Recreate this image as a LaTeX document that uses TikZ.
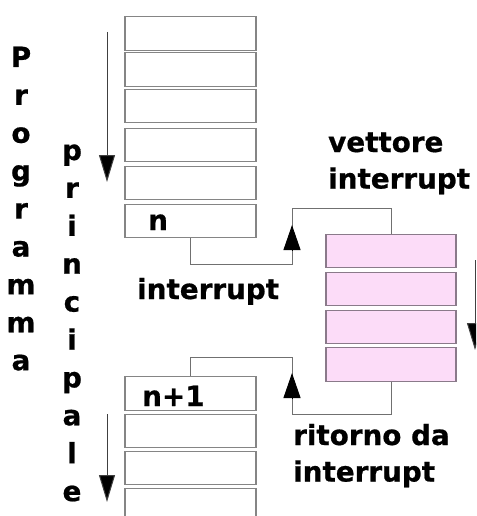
\documentclass[tikz,border=0pt]{standalone}
\usepackage{fontspec}
\setmainfont{DejaVu Sans}[BoldFeatures={FakeBold=0.7}]
\usetikzlibrary{arrows.meta}
\definecolor{boxgray}{HTML}{858585}
\definecolor{pinkfill}{HTML}{FCDCF8}
\definecolor{pinkline}{HTML}{8A7A8A}
\definecolor{conngray}{HTML}{707070}
\begin{document}
\begin{tikzpicture}[x=1pt,y=-1pt,
  cell/.style={draw=boxgray, line width=1.3pt, minimum width=131pt, minimum height=33.5pt, inner sep=0pt, fill=white},
  pcell/.style={cell, draw=pinkline, fill=pinkfill, minimum width=130pt},
  conn/.style={draw=conngray, line width=1pt},
  ctip/.style={draw=black, line width=1pt, -{Triangle[length=25pt,width=17pt]}},
  flow/.style={draw=black!75, line width=1pt, -{Triangle[length=27pt,width=16pt,fill=black]}},
  lbl/.style={font=\fontsize{27.8}{36.5}\selectfont\bfseries, inner sep=0pt, text=black},
  vlbl/.style={font=\fontsize{27.8}{37.9}\selectfont\bfseries, inner sep=0pt, text=black}]
\useasboundingbox (0,0) rectangle (476,516);
\clip (0,0) rectangle (476,516);

% top stack
\node[cell] (t1) at (190.5,33.5) {};
\node[cell] (t2) at (190.5,69.5) {};
\node[cell] (t3) at (190.5,106) {};
\node[cell] (t4) at (190.5,145) {};
\node[cell] (t5) at (190.5,183) {};
\node[cell] (n)  at (190.5,221) {};
\node[lbl, anchor=base west] (ntxt) at (148,230) {n};

% bottom stack
\node[cell] (n1) at (190.5,393.5) {};
\node[lbl, anchor=base west] (n1txt) at (142,406) {n+1};
\node[cell] (b2) at (190.5,431) {};
\node[cell] (b3) at (190.5,468) {};
\node[cell] (b4) at (190.5,505) {};

% interrupt vector
\node[pcell] (p1) at (391,251) {};
\node[pcell] (p2) at (391,289) {};
\node[pcell] (p3) at (391,327) {};
\node[pcell] (p4) at (391,364.5) {};

% connector: interrupt
\coordinate (a1) at (292,264);
\coordinate (a2) at (292,208);
\coordinate (a1b) at (292,251);
\coordinate (a1t) at (292,225);
\draw[conn] (n.south) |- (a1) -- (a2) -| (p1.north);
\draw[ctip] (a1b) -- (a1t);

% connector: return
\coordinate (r1) at (292,414);
\coordinate (r2) at (292,357);
\coordinate (r1b) at (292,399);
\coordinate (r1t) at (292,373);
\draw[conn] (p4.south) |- (r1) -- (r2) -| (n1.north);
\draw[ctip] (r1b) -- (r1t);

% flow arrows
\coordinate (f1s) at (107,32);
\coordinate (f1e) at (107,182);
\coordinate (f2s) at (107,414);
\coordinate (f2e) at (107,502);
\coordinate (f3s) at (475,260);
\coordinate (f3e) at (475,350);
\draw[flow] (f1s) -- (f1e);
\draw[flow] (f2s) -- (f2e);
\draw[flow] (f3s) -- (f3e);

% labels
\node[vlbl, anchor=base] (prog) at (21,67) {\begin{tabular}[t]{@{}c@{}}P\\r\\o\\g\\r\\a\\m\\m\\a\end{tabular}};
\node[vlbl, anchor=base] (princ) at (72,160) {\begin{tabular}[t]{@{}c@{}}p\\r\\i\\n\\c\\i\\p\\a\\l\\e\end{tabular}};
\node[lbl, anchor=base west] (vett) at (328,152) {\begin{tabular}[t]{@{}l@{}}vettore\\interrupt\end{tabular}};
\node[lbl, anchor=base west] (intl) at (137,299) {interrupt};
\node[lbl, anchor=base west] (ret) at (293,445) {\begin{tabular}[t]{@{}l@{}}ritorno da\\interrupt\end{tabular}};
\end{tikzpicture}
\end{document}
